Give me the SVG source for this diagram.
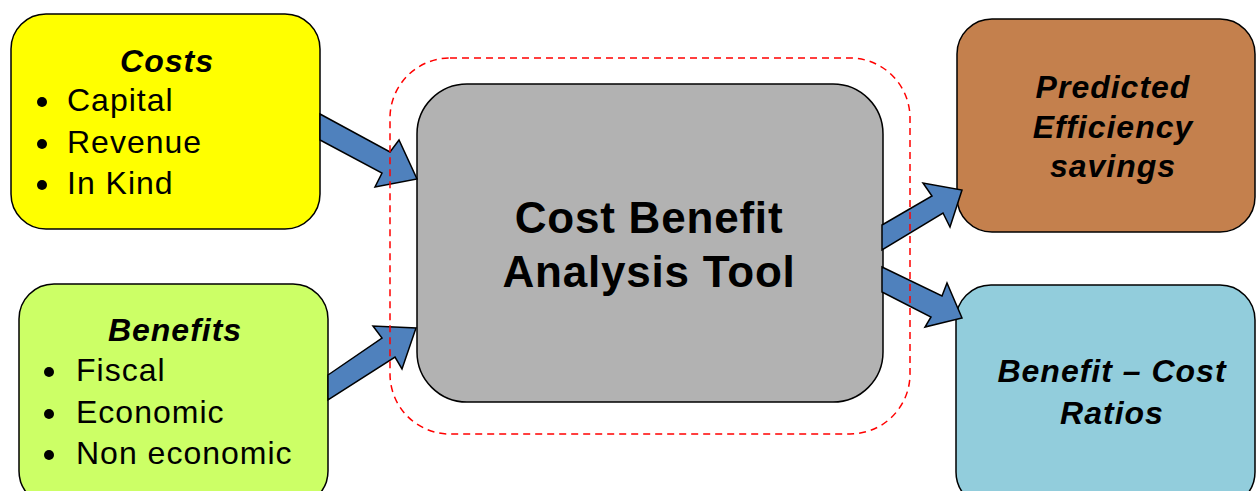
<svg xmlns="http://www.w3.org/2000/svg" width="1256" height="491" viewBox="0 0 1256 491">
<style>
.box{stroke:#000;stroke-width:1.5}
.t{font-family:"Liberation Sans",Arial,sans-serif;fill:#000;letter-spacing:1px}
.h{font-weight:bold;font-style:italic;font-size:32px;text-anchor:middle}
.b{font-size:32px}
.c{font-weight:bold;font-size:44px;text-anchor:middle;letter-spacing:0.8px}
.arr{fill:#4F81BD;stroke:#000;stroke-width:1.5;stroke-linejoin:miter}
.dash{fill:none;stroke:#FF0000;stroke-width:1.5;stroke-dasharray:7 5}
</style>
<rect width="1256" height="491" fill="#fff"/>
<g id="costs">
<rect class="box" x="11" y="14" width="309" height="215" rx="35" fill="#FFFF00"/>
<text class="t h" x="167" y="72">Costs</text>
<circle cx="42" cy="102" r="5"/><text class="t b" x="67" y="111">Capital</text>
<circle cx="42" cy="144" r="5"/><text class="t b" x="67" y="153">Revenue</text>
<circle cx="42" cy="185" r="5"/><text class="t b" x="67" y="194">In Kind</text>
</g>
<g id="benefits">
<rect class="box" x="19" y="284" width="309" height="222" rx="35" fill="#CCFF66"/>
<text class="t h" x="175" y="341">Benefits</text>
<circle cx="49" cy="372" r="5"/><text class="t b" x="76" y="381">Fiscal</text>
<circle cx="49" cy="414" r="5"/><text class="t b" x="76" y="423">Economic</text>
<circle cx="49" cy="455" r="5"/><text class="t b" x="76" y="464">Non economic</text>
</g>
<g id="tool">
<rect class="box" x="417" y="84" width="466" height="318" rx="50" fill="#B2B2B2"/>
<text class="t c" x="649" y="233">Cost Benefit</text>
<text class="t c" x="649" y="287">Analysis Tool</text>
</g>
<g id="efficiency">
<rect class="box" x="957" y="19" width="298" height="213" rx="35" fill="#C4804D"/>
<text class="t h" x="1113" y="98">Predicted</text>
<text class="t h" x="1113" y="138">Efficiency</text>
<text class="t h" x="1113" y="177">savings</text>
</g>
<g id="ratios">
<rect class="box" x="956" y="285" width="299" height="222" rx="35" fill="#92CDDC"/>
<text class="t h" x="1112" y="382">Benefit – Cost</text>
<text class="t h" x="1112" y="424">Ratios</text>
</g>
<g id="connectors">
<polygon class="arr" points="320,114 390,152 399,140 417,179 375,187 382,173 320,140"/>
<polygon class="arr" points="328,375 382,338 373,326 416,328 402,369 395,357 328,400"/>
<polygon class="arr" points="882,225 932,196 923,183 962,190 950,227 943,213 882,250"/>
<polygon class="arr" points="882,267 942,296 947,283 962,318 925,327 931,317 882,292"/>
</g>
<g id="boundary">
<rect class="dash" x="390" y="58" width="520" height="376" rx="60"/>
</g>
</svg>
